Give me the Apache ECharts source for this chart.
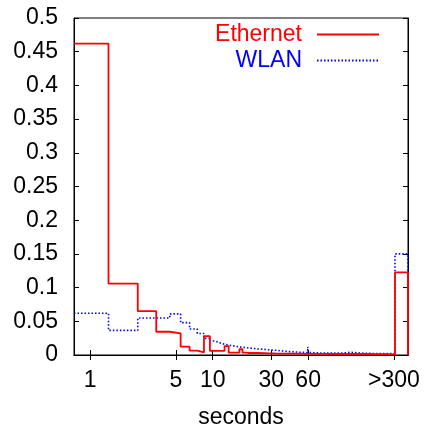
<!DOCTYPE html>
<html>
<head>
<meta charset="utf-8">
<script src="https://cdn.jsdelivr.net/npm/echarts@6/dist/echarts.min.js"></script>
<style>html,body{margin:0;padding:0;background:#fff}#c{width:424px;height:426px}</style>
</head>
<body>
<div id="c"></div>
<script>
// bin centres (seconds); the last one is the ">300" bin
var seconds = [1,2,3,4,5,6,7,8,9,10,11,12,13,14,15,16,17,18,19,20,22,25,28,30,35,40,45,50,55,59,60,61,70,80,90,100,120,150,200,240,280,335];
var ethernet = [0.462,0.106,0.065,0.0345,0.032,0.0123,0.0064,0.004,0.028,0.006,0.006,0.006,0.0133,0.0035,0.0035,0.0035,0.0085,0.0035,0.003,0.003,0.003,0.0028,0.0025,0.0022,0.002,0.002,0.002,0.002,0.0018,0.0018,0.002,0.0018,0.0017,0.0016,0.0015,0.0015,0.0015,0.0015,0.0012,0.0012,0.001,0.1225];
var wlan = [0.062,0.0366,0.055,0.055,0.061,0.048,0.0385,0.032,0.0247,0.0207,0.018,0.016,0.0148,0.0138,0.0128,0.012,0.0115,0.011,0.0105,0.0099,0.009,0.0083,0.0075,0.007,0.006,0.005,0.0045,0.004,0.004,0.0035,0.012,0.0035,0.003,0.003,0.0028,0.0028,0.004,0.0025,0.0022,0.002,0.002,0.15];
var xTicks = [1,5,10,30,60,300];
var xTickLabels = ['1','5','10','30','60','>300'];
var xMin = 0.74, xMax = 391;

// histogram step edges (geometric midpoints, as on a log axis)
function stepData(vals){
  var edges = [xMin];
  for (var i = 0; i < seconds.length - 1; i++) edges.push(Math.sqrt(seconds[i]*seconds[i+1]));
  edges.push(xMax);
  var d = [];
  for (var j = 0; j < vals.length; j++) d.push([edges[j], vals[j]]);
  d.push([edges[vals.length], vals[vals.length-1]]);
  d.push([edges[vals.length], 0]);
  return d;
}

var FONT = 'Liberation Sans';
var FS = 23;
var chart = echarts.init(document.getElementById('c'));
var xBase = {
  type: 'log', logBase: 10, min: xMin, max: xMax,
  axisLine: {show: true, lineStyle: {color: '#000', width: 1}},
  splitLine: {show: false},
  minorTick: {show: false}
};
chart.setOption({
  animation: false,
  backgroundColor: '#fff',
  grid: {left: 74, right: 16, top: 18, bottom: 71, show: true, borderColor: '#000', borderWidth: 1,
         containLabel: false, outerBoundsMode: 'none'},
  legend: {
    orient: 'vertical', align: 'right', right: 44, top: 23, padding: 0,
    itemWidth: 62, itemHeight: 14, itemGap: 3,
    itemStyle: {opacity: 0},
    textStyle: {fontFamily: FONT, fontSize: FS, padding: [0, 10, 0, 0]},
    data: [
      {name: 'Ethernet', textStyle: {color: '#ff0000'}},
      {name: 'WLAN', textStyle: {color: '#0000ff'}}
    ]
  },
  xAxis: [
    Object.assign({}, xBase, {
      position: 'bottom',
      name: 'seconds', nameLocation: 'middle', nameGap: 51,
      nameTextStyle: {fontFamily: FONT, fontSize: FS, color: '#000'},
      axisTick: {show: true, inside: true, length: 5, customValues: xTicks, lineStyle: {color: '#000'}},
      axisLabel: {show: true, margin: 14, customValues: xTicks, fontFamily: FONT, fontSize: FS, color: '#000',
        formatter: function(v){ var i = xTicks.indexOf(Math.round(v)); return i >= 0 ? xTickLabels[i] : ''; }}
    }),
    Object.assign({}, xBase, {
      position: 'top',
      axisTick: {show: true, inside: true, length: 5, customValues: xTicks, lineStyle: {color: '#000'}},
      axisLabel: {show: false}
    })
  ],
  yAxis: [
    {type: 'value', min: 0, max: 0.5, interval: 0.05, position: 'left',
     axisLine: {show: true, lineStyle: {color: '#000'}},
     axisTick: {show: true, inside: true, length: 5, lineStyle: {color: '#000'}},
     splitLine: {show: false},
     axisLabel: {margin: 16, fontFamily: FONT, fontSize: FS, color: '#000',
       formatter: function(v){ return String(Math.round(v*100)/100); }}},
    {type: 'value', min: 0, max: 0.5, interval: 0.05, position: 'right',
     axisLine: {show: true, lineStyle: {color: '#000'}},
     axisTick: {show: true, inside: true, length: 5, lineStyle: {color: '#000'}},
     splitLine: {show: false},
     axisLabel: {show: false}}
  ],
  series: [
    {name: 'Ethernet', type: 'line', step: 'end', symbol: 'none', xAxisIndex: 0, yAxisIndex: 0,
     data: stepData(ethernet), color: '#ff0000', lineStyle: {color: '#ff0000', width: 1.8}, z: 3},
    {name: 'WLAN', type: 'line', step: 'end', symbol: 'none', xAxisIndex: 0, yAxisIndex: 0,
     data: stepData(wlan), color: '#0000ff', lineStyle: {color: '#0000ff', width: 1.6, type: [1.5, 2]}, z: 2}
  ]
});
</script>
</body>
</html>
